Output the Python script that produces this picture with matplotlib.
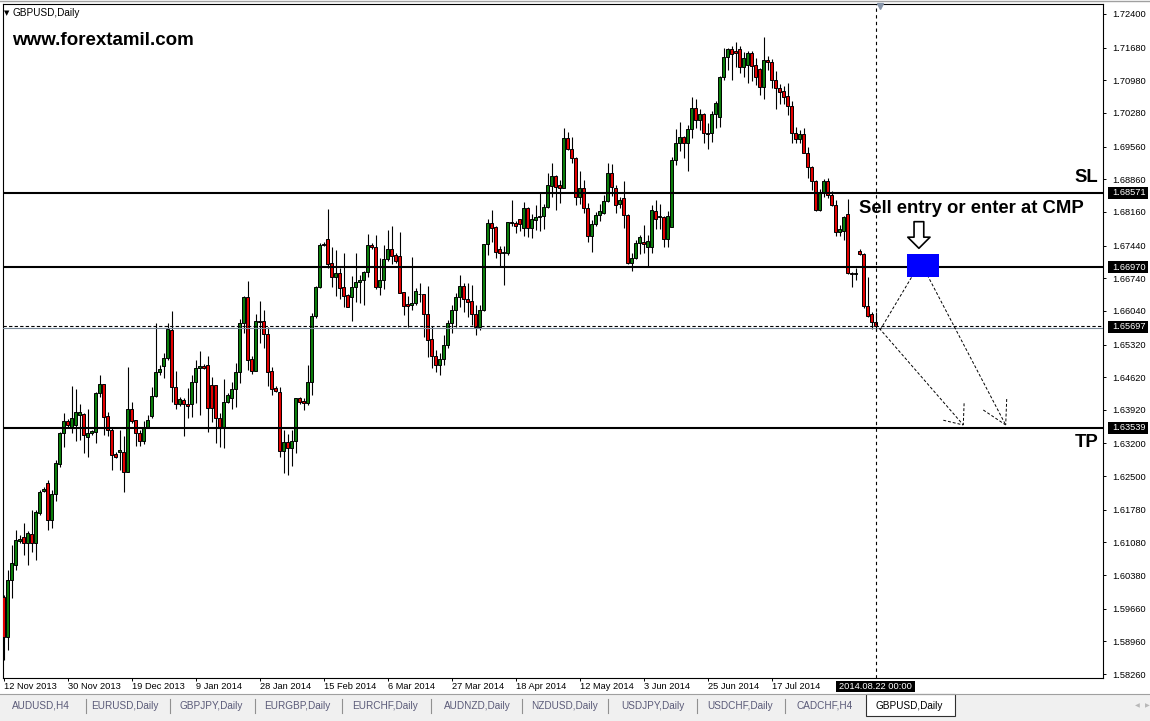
import matplotlib
matplotlib.use("Agg")
import matplotlib.pyplot as plt
from matplotlib.patches import Rectangle
from matplotlib.lines import Line2D
from matplotlib.transforms import blended_transform_factory as blend
import numpy as np

plt.rcParams['font.family'] = ['Liberation Sans', 'DejaVu Sans']

symbol = 'GBPUSD,Daily'
watermark = 'www.forextamil.com'

# daily OHLC, 12 Nov 2013 .. 22 Aug 2014
opens = [
    1.5991, 1.5905, 1.6027, 1.6060, 1.6111, 1.6120, 1.6107, 1.6126, 1.6107, 1.6171,
    1.6218, 1.6235, 1.6156, 1.6212, 1.6276, 1.6342, 1.6368, 1.6353, 1.6360, 1.6381,
    1.6383, 1.6334, 1.6343, 1.6345, 1.6428, 1.6447, 1.6379, 1.6349, 1.6297, 1.6302,
    1.6302, 1.6259, 1.6394, 1.6370, 1.6342, 1.6325, 1.6355, 1.6379, 1.6422, 1.6473,
    1.6486, 1.6503, 1.6563, 1.6441, 1.6405, 1.6413, 1.6405, 1.6405, 1.6452, 1.6482,
    1.6486, 1.6488, 1.6445, 1.6445, 1.6375, 1.6355, 1.6409, 1.6418, 1.6437, 1.6473,
    1.6578, 1.6634, 1.6501, 1.6475, 1.6582, 1.6582, 1.6555, 1.6475, 1.6439, 1.6430,
    1.6304, 1.6323, 1.6311, 1.6325, 1.6418, 1.6411, 1.6407, 1.6452, 1.6593, 1.6655,
    1.6748, 1.6758, 1.6707, 1.6677, 1.6686, 1.6655, 1.6638, 1.6634, 1.6655, 1.6666,
    1.6670, 1.6687, 1.6745, 1.6741, 1.6655, 1.6670, 1.6715, 1.6737, 1.6724, 1.6722,
    1.6645, 1.6619, 1.6617, 1.6621, 1.6640, 1.6640, 1.6597, 1.6544, 1.6507, 1.6488,
    1.6501, 1.6531, 1.6578, 1.6606, 1.6634, 1.6657, 1.6630, 1.6626, 1.6598, 1.6570,
    1.6606, 1.6747, 1.6792, 1.6784, 1.6737, 1.6728, 1.6728, 1.6795, 1.6792, 1.6801,
    1.6782, 1.6825, 1.6782, 1.6799, 1.6805, 1.6807, 1.6827, 1.6872, 1.6893, 1.6874,
    1.6868, 1.6975, 1.6951, 1.6932, 1.6848, 1.6868, 1.6825, 1.6765, 1.6790, 1.6810,
    1.6814, 1.6840, 1.6900, 1.6868, 1.6833, 1.6846, 1.6810, 1.6707, 1.6718, 1.6750,
    1.6752, 1.6741, 1.6741, 1.6818, 1.6805, 1.6805, 1.6758, 1.6784, 1.6928, 1.6964,
    1.6977, 1.6964, 1.6994, 1.7039, 1.7013, 1.7026, 1.6985, 1.6985, 1.7026, 1.7019,
    1.7105, 1.7148, 1.7165, 1.7160, 1.7165, 1.7126, 1.7131, 1.7156, 1.7131, 1.7122,
    1.7084, 1.7141, 1.7137, 1.7099, 1.7082, 1.7075, 1.7064, 1.7043, 1.6985, 1.6973,
    1.6983, 1.6943, 1.6913, 1.6883, 1.6821, 1.6859, 1.6883, 1.6853, 1.6831, 1.6773,
    1.6775, 1.6812, 1.6685, 1.6683, 1.6733, 1.6726, 1.6615, 1.6597, 1.6580]
highs = [
    1.5995, 1.6049, 1.6102, 1.6135, 1.6124, 1.6150, 1.6133, 1.6177, 1.6177, 1.6220,
    1.6227, 1.6242, 1.6220, 1.6285, 1.6345, 1.6385, 1.6372, 1.6443, 1.6437, 1.6405,
    1.6385, 1.6394, 1.6349, 1.6430, 1.6467, 1.6447, 1.6387, 1.6355, 1.6301, 1.6349,
    1.6336, 1.6484, 1.6409, 1.6370, 1.6349, 1.6368, 1.6381, 1.6440, 1.6578, 1.6488,
    1.6514, 1.6578, 1.6604, 1.6475, 1.6420, 1.6418, 1.6439, 1.6467, 1.6499, 1.6518,
    1.6490, 1.6507, 1.6462, 1.6445, 1.6385, 1.6458, 1.6428, 1.6452, 1.6492, 1.6587,
    1.6636, 1.6668, 1.6507, 1.6598, 1.6625, 1.6606, 1.6570, 1.6484, 1.6443, 1.6441,
    1.6349, 1.6340, 1.6349, 1.6418, 1.6420, 1.6418, 1.6488, 1.6600, 1.6657, 1.6750,
    1.6752, 1.6822, 1.6741, 1.6735, 1.6696, 1.6728, 1.6640, 1.6679, 1.6728, 1.6681,
    1.6690, 1.6769, 1.6750, 1.6767, 1.6718, 1.6745, 1.6778, 1.6786, 1.6728, 1.6773,
    1.6645, 1.6636, 1.6719, 1.6653, 1.6664, 1.6640, 1.6657, 1.6572, 1.6520, 1.6514,
    1.6552, 1.6585, 1.6617, 1.6643, 1.6681, 1.6664, 1.6664, 1.6660, 1.6617, 1.6617,
    1.6747, 1.6801, 1.6820, 1.6786, 1.6743, 1.6743, 1.6795, 1.6842, 1.6797, 1.6801,
    1.6838, 1.6827, 1.6812, 1.6831, 1.6857, 1.6833, 1.6900, 1.6921, 1.6895, 1.6884,
    1.6996, 1.6988, 1.6977, 1.6934, 1.6904, 1.6884, 1.6836, 1.6799, 1.6816, 1.6833,
    1.6853, 1.6921, 1.6919, 1.6874, 1.6848, 1.6882, 1.6812, 1.6728, 1.6756, 1.6767,
    1.6788, 1.6767, 1.6831, 1.6842, 1.6833, 1.6807, 1.6818, 1.6934, 1.6994, 1.7009,
    1.6979, 1.7003, 1.7062, 1.7058, 1.7036, 1.7028, 1.7007, 1.7032, 1.7053, 1.7107,
    1.7167, 1.7167, 1.7171, 1.7180, 1.7171, 1.7158, 1.7161, 1.7161, 1.7146, 1.7124,
    1.7191, 1.7150, 1.7143, 1.7118, 1.7090, 1.7086, 1.7092, 1.7054, 1.6998, 1.6992,
    1.6996, 1.6956, 1.6915, 1.6885, 1.6865, 1.6887, 1.6889, 1.6861, 1.6842, 1.6788,
    1.6807, 1.6844, 1.6687, 1.6696, 1.6737, 1.6728, 1.6677, 1.6602, 1.6602]
lows = [
    1.5856, 1.5878, 1.5989, 1.6049, 1.6107, 1.6081, 1.6060, 1.6087, 1.6070, 1.6167,
    1.6216, 1.6135, 1.6139, 1.6197, 1.6270, 1.6313, 1.6353, 1.6342, 1.6326, 1.6328,
    1.6300, 1.6291, 1.6338, 1.6321, 1.6420, 1.6338, 1.6336, 1.6263, 1.6288, 1.6263,
    1.6216, 1.6259, 1.6364, 1.6315, 1.6315, 1.6319, 1.6353, 1.6375, 1.6420, 1.6467,
    1.6460, 1.6499, 1.6409, 1.6394, 1.6400, 1.6336, 1.6375, 1.6377, 1.6407, 1.6381,
    1.6480, 1.6345, 1.6366, 1.6321, 1.6313, 1.6311, 1.6407, 1.6394, 1.6398, 1.6450,
    1.6557, 1.6477, 1.6469, 1.6475, 1.6535, 1.6525, 1.6443, 1.6424, 1.6430, 1.6291,
    1.6257, 1.6253, 1.6272, 1.6300, 1.6405, 1.6392, 1.6403, 1.6424, 1.6589, 1.6653,
    1.6743, 1.6696, 1.6655, 1.6636, 1.6630, 1.6612, 1.6612, 1.6583, 1.6623, 1.6621,
    1.6617, 1.6677, 1.6737, 1.6651, 1.6638, 1.6651, 1.6711, 1.6705, 1.6707, 1.6643,
    1.6596, 1.6570, 1.6606, 1.6617, 1.6624, 1.6548, 1.6505, 1.6482, 1.6473, 1.6467,
    1.6488, 1.6525, 1.6557, 1.6570, 1.6612, 1.6602, 1.6591, 1.6574, 1.6553, 1.6563,
    1.6604, 1.6724, 1.6752, 1.6718, 1.6698, 1.6660, 1.6724, 1.6786, 1.6771, 1.6775,
    1.6765, 1.6762, 1.6760, 1.6778, 1.6775, 1.6780, 1.6825, 1.6848, 1.6820, 1.6835,
    1.6868, 1.6949, 1.6921, 1.6831, 1.6833, 1.6814, 1.6752, 1.6730, 1.6786, 1.6797,
    1.6812, 1.6838, 1.6850, 1.6814, 1.6825, 1.6782, 1.6705, 1.6690, 1.6715, 1.6726,
    1.6728, 1.6698, 1.6728, 1.6780, 1.6780, 1.6741, 1.6741, 1.6784, 1.6917, 1.6947,
    1.6932, 1.6904, 1.6975, 1.6996, 1.6992, 1.6964, 1.6951, 1.6966, 1.6996, 1.6998,
    1.7099, 1.7120, 1.7099, 1.7126, 1.7113, 1.7105, 1.7092, 1.7096, 1.7088, 1.7067,
    1.7058, 1.7120, 1.7082, 1.7037, 1.7047, 1.7047, 1.7024, 1.6964, 1.6964, 1.6964,
    1.6943, 1.6889, 1.6864, 1.6818, 1.6818, 1.6848, 1.6845, 1.6829, 1.6765, 1.6765,
    1.6756, 1.6683, 1.6655, 1.6670, 1.6724, 1.6610, 1.6591, 1.6565, 1.6561]
closes = [
    1.5905, 1.6027, 1.6064, 1.6113, 1.6115, 1.6107, 1.6128, 1.6107, 1.6173, 1.6216,
    1.6222, 1.6156, 1.6212, 1.6278, 1.6342, 1.6368, 1.6360, 1.6375, 1.6388, 1.6388,
    1.6338, 1.6342, 1.6347, 1.6428, 1.6447, 1.6377, 1.6349, 1.6295, 1.6291, 1.6306,
    1.6259, 1.6394, 1.6368, 1.6342, 1.6325, 1.6355, 1.6370, 1.6422, 1.6473, 1.6480,
    1.6503, 1.6565, 1.6441, 1.6405, 1.6416, 1.6404, 1.6401, 1.6452, 1.6482, 1.6486,
    1.6482, 1.6396, 1.6396, 1.6375, 1.6355, 1.6409, 1.6424, 1.6437, 1.6473, 1.6578,
    1.6634, 1.6499, 1.6475, 1.6582, 1.6580, 1.6555, 1.6473, 1.6437, 1.6433, 1.6304,
    1.6323, 1.6311, 1.6325, 1.6418, 1.6409, 1.6407, 1.6452, 1.6593, 1.6655, 1.6745,
    1.6745, 1.6705, 1.6677, 1.6686, 1.6653, 1.6636, 1.6612, 1.6655, 1.6666, 1.6670,
    1.6687, 1.6745, 1.6741, 1.6655, 1.6670, 1.6715, 1.6737, 1.6722, 1.6711, 1.6643,
    1.6615, 1.6615, 1.6621, 1.6647, 1.6640, 1.6597, 1.6542, 1.6507, 1.6488, 1.6501,
    1.6531, 1.6578, 1.6606, 1.6634, 1.6657, 1.6630, 1.6623, 1.6598, 1.6570, 1.6606,
    1.6747, 1.6792, 1.6782, 1.6730, 1.6728, 1.6730, 1.6795, 1.6792, 1.6786, 1.6790,
    1.6825, 1.6782, 1.6801, 1.6805, 1.6807, 1.6827, 1.6874, 1.6893, 1.6870, 1.6868,
    1.6975, 1.6951, 1.6932, 1.6848, 1.6868, 1.6825, 1.6765, 1.6790, 1.6810, 1.6818,
    1.6840, 1.6900, 1.6870, 1.6831, 1.6842, 1.6810, 1.6707, 1.6718, 1.6750, 1.6763,
    1.6748, 1.6754, 1.6820, 1.6801, 1.6807, 1.6758, 1.6807, 1.6928, 1.6964, 1.6977,
    1.6964, 1.6994, 1.7039, 1.7013, 1.7026, 1.6985, 1.6983, 1.7026, 1.7049, 1.7105,
    1.7148, 1.7165, 1.7154, 1.7156, 1.7126, 1.7146, 1.7156, 1.7128, 1.7105, 1.7084,
    1.7141, 1.7137, 1.7099, 1.7082, 1.7073, 1.7062, 1.7043, 1.6985, 1.6973, 1.6983,
    1.6943, 1.6913, 1.6883, 1.6821, 1.6859, 1.6883, 1.6853, 1.6831, 1.6773, 1.6780,
    1.6805, 1.6685, 1.6683, 1.6685, 1.6726, 1.6615, 1.6593, 1.6580, 1.6572]

date_labels = ['12 Nov 2013', '30 Nov 2013', '19 Dec 2013', '9 Jan 2014', '28 Jan 2014',
               '15 Feb 2014', '6 Mar 2014', '27 Mar 2014', '18 Apr 2014', '12 May 2014',
               '3 Jun 2014', '25 Jun 2014', '17 Jul 2014']
date_bars = [0, 16, 32, 48, 64, 80, 96, 112, 128, 144, 160, 176, 192]
cursor_bar = 218
cursor_label = '2014.08.22 00:00'

price_ticks = [1.72400, 1.71680, 1.70980, 1.70280, 1.69560, 1.68860, 1.68160, 1.67440,
               1.66740, 1.66040, 1.65320, 1.64620, 1.63920, 1.63200, 1.62500, 1.61780,
               1.61080, 1.60380, 1.59660, 1.58960, 1.58260]

sl_price = 1.68571
entry_price = 1.66970
bid_price = 1.65697
tp_price = 1.63539

# hand drawn trade idea (bar, price)
entry_box = (225.75, 1.66772, 233.8, 1.67259)
down_arrow = (228.8, 1.67951, 1.67381)
trade_lines = [
    [(219.1, 1.65631), (227.6, 1.66852)],
    [(230.9, 1.66809), (250.5, 1.63596)],
    [(218.9, 1.65667), (239.9, 1.63596)],
    [(240.1, 1.64060), (239.9, 1.63596)],
    [(234.9, 1.63698), (239.9, 1.63596)],
    [(244.9, 1.63917), (250.5, 1.63596)],
    [(250.75, 1.64152), (250.5, 1.63596)],
]

tabs = ['AUDUSD,H4', 'EURUSD,Daily', 'GBPJPY,Daily', 'EURGBP,Daily', 'EURCHF,Daily',
        'AUDNZD,Daily', 'NZDUSD,Daily', 'USDJPY,Daily', 'USDCHF,Daily', 'CADCHF,H4',
        'GBPUSD,Daily']
tab_x = [41, 125, 211, 297, 385, 477, 565, 653, 740, 825, 909]
tab_seps = [86, 170, 255, 342, 431, 522, 608, 697, 785]

W, H = 1150, 721
fig = plt.figure(figsize=(W / 100, H / 100), dpi=100)
fig.patch.set_facecolor('white')


def fx(x):
    return x / W


def fy(y):
    return 1 - y / H


ax = fig.add_axes([fx(3), fy(678), (1103 - 3) / W, (678 - 4) / H])
ytop, ybot = 1.72614, 1.58176
ax.set_ylim(ybot, ytop)
ax.set_xlim(-0.175, 274.825)
ppu = 674 / (ytop - ybot)   # pixels per price unit

o = np.array(opens)
h = np.array(highs)
l = np.array(lows)
c = np.array(closes)
x = np.arange(len(o))
cols = np.where(c >= o, '#0a7d0a', '#e30000')

ax.vlines(x, l, h, color='black', lw=0.8, zorder=3)
ax.bar(x, np.maximum(np.abs(c - o), 0.00004), bottom=np.minimum(o, c), width=0.62,
       color=cols, edgecolor='black', linewidth=0.7, zorder=4)

# levels
for p in (sl_price, entry_price, tp_price):
    ax.axhline(p, color='black', lw=1.5, zorder=5)
ax.axhline(bid_price - 0.00016, color='#778899', lw=0.8, zorder=5)
ax.axhline(bid_price + 0.00016, color='black', lw=0.8, ls=(0, (3, 2)), zorder=5)
ax.axvline(cursor_bar, color='black', lw=0.8, ls=(0, (3, 3)), zorder=5)
ax.plot([cursor_bar + 1], [ytop - 2 / ppu], marker='v', ms=4, color='#8896aa',
        clip_on=False, zorder=6)

# trade sketch
for (x0, y0), (x1, y1) in trade_lines:
    ax.plot([x0, x1], [y0, y1], color='black', lw=0.7, ls=(0, (3, 2)), zorder=6)
bx0, by0, bx1, by1 = entry_box
ax.add_patch(Rectangle((bx0, by0), bx1 - bx0, by1 - by0, fc='#0000ff', ec='none', zorder=6))
ax.annotate('', xy=(down_arrow[0], down_arrow[2]), xytext=(down_arrow[0], down_arrow[1]),
            arrowprops=dict(facecolor='white', edgecolor='black', width=7, headwidth=16,
                            headlength=8, shrink=0, lw=1.2), zorder=7)

ax.text(213.8, 1.68131, 'Sell entry or enter at CMP', fontsize=13.3, fontweight='bold',
        va='baseline', ha='left', zorder=7)
ax.text(273.6, 1.68808, 'SL', fontsize=13.3, fontweight='bold', va='baseline', ha='right')
ax.text(273.6, 1.63131, 'TP', fontsize=13.3, fontweight='bold', va='baseline', ha='right')

# axes styling
for s in ax.spines.values():
    s.set_linewidth(0.8)
    s.set_color('black')
ax.yaxis.tick_right()
ax.set_yticks(price_ticks)
ax.set_yticklabels(['%.5f' % v for v in price_ticks])
ax.tick_params(axis='y', direction='out', length=2.5, width=0.7, pad=4, labelsize=6.7)
ax.set_xticks(date_bars)
ax.set_xticklabels(date_labels, ha='left')
ax.tick_params(axis='x', direction='out', length=2.2, width=0.7, pad=0.8, labelsize=6.7)

# highlighted price labels
tay = blend(ax.transAxes, ax.transData)
for p in (sl_price, entry_price, bid_price, tp_price):
    ax.add_patch(Rectangle((5 / 1100, p - 6 / ppu), 40 / 1100, 12 / ppu, transform=tay,
                           fc='black', ec='none', clip_on=False, zorder=8))
    ax.text(1 + 9 / 1100, p, '%.5f' % p, transform=tay, color='white', fontsize=6.7,
            va='center', ha='left', clip_on=False, zorder=9)
# shift boxes onto the right axis side
for patch in ax.patches[-4:]:
    patch.set_x(1 + 5 / 1100)

txf = blend(ax.transData, fig.transFigure)
ax.add_patch(Rectangle((cursor_bar - 9.9, fy(692)), 19.8, fy(681) - fy(692), transform=txf,
                       fc='black', ec='none', clip_on=False, zorder=8))
ax.text(cursor_bar, fy(686.5), cursor_label, transform=txf, color='white', fontsize=6.7,
        ha='center', va='center', clip_on=False, zorder=9)

# header texts
fig.text(fx(7), fy(13), '\u25bc', fontsize=5, ha='center', va='center',
         family=['DejaVu Sans'])
fig.text(fx(12.5), fy(13), symbol, fontsize=7.2, ha='left', va='center')
fig.text(fx(12), fy(45), watermark, fontsize=13.5, fontweight='bold', ha='left',
         va='baseline')
fig.add_artist(Line2D([0, 1], [fy(0.5), fy(0.5)], color='#a0a0a0', lw=1))

# tab bar
fig.patches.append(Rectangle((0, 0), 1, fy(694), transform=fig.transFigure,
                             fc='#f0f0f0', ec='none', zorder=0))
fig.add_artist(Line2D([0, 1], [fy(694), fy(694)], color='#a0a0a0', lw=0.8))
fig.add_artist(Rectangle((fx(866), fy(716)), 89 / W, 22 / H, transform=fig.transFigure,
                         fc='white', ec='#303030', lw=0.8))
for sx in tab_seps:
    fig.add_artist(Line2D([fx(sx), fx(sx)], [fy(699), fy(713)], color='#909090', lw=0.8))
for name, tx in zip(tabs, tab_x):
    fig.text(fx(tx), fy(706), name, fontsize=7.2, ha='center', va='center',
             color='black' if name == symbol else '#5a5a78')
fig.text(fx(1137), fy(706), '\u25c0', fontsize=4.5, color='#b8b8b8', ha='center',
         va='center', family=['DejaVu Sans'])
fig.text(fx(1147), fy(706), '\u25b6', fontsize=4.5, color='#b8b8b8', ha='center',
         va='center', family=['DejaVu Sans'])

fig.savefig('out.png', dpi=100)
